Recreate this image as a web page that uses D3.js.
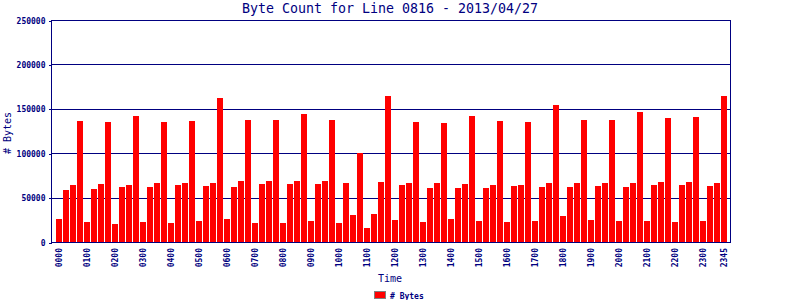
<!DOCTYPE html>
<html>
<head>
<meta charset="utf-8">
<script src="https://cdn.jsdelivr.net/npm/d3@7/dist/d3.min.js"></script>
<style>
  html, body { margin: 0; padding: 0; background: #fff; }
  svg { display: block; }
  text { font-family: "DejaVu Sans Mono", monospace; fill: #000080; }
</style>
</head>
<body>
<svg id="chart" width="800" height="300"></svg>
<script>
const title = "Byte Count for Line 0816 - 2013/04/27";
const yTitle = "# Bytes";
const xTitle = "Time";
const seriesName = "# Bytes";

// 96 quarter-hour intervals
const times = [];
for (let h = 0; h < 24; h++) for (let m = 0; m < 60; m += 15)
  times.push(String(h).padStart(2, "0") + String(m).padStart(2, "0"));

const bytes = [
  25900, 58600, 64200, 136300, 22500, 59700, 65300, 135100,
  20300, 61900, 64200, 141900, 22500, 61900, 66400, 135100,
  21400, 64200, 66400, 136300, 23600, 63100, 66400, 162200,
  25900, 61900, 68700, 137400, 21400, 65300, 68700, 137400,
  21400, 65300, 68700, 144100, 23600, 65300, 68700, 137400,
  21400, 66400, 30400, 100200, 15800, 31500, 67600, 164400,
  24800, 64200, 66400, 135100, 22500, 60800, 66400, 134000,
  25900, 60800, 65300, 141900, 23600, 60800, 64200, 136300,
  22500, 63100, 64200, 135100, 23600, 61900, 66400, 154300,
  29300, 61900, 66400, 137400, 24800, 63100, 66400, 137400,
  23600, 61900, 66400, 146400, 23600, 64200, 67600, 139600,
  22500, 64200, 67600, 140800, 23600, 63100, 66400, 164400
];

const tickLabels = ["0000","0100","0200","0300","0400","0500","0600","0700","0800","0900","1000","1100",
  "1200","1300","1400","1500","1600","1700","1800","1900","2000","2100","2200","2300","2345"];
const yTicks = [0, 50000, 100000, 150000, 200000, 250000];

const navy = "#000080";
const svg = d3.select("#chart");

const pLeft = 51, pRight = 730, pTop = 20, pBottom = 242;

const x = d3.scaleBand().domain(times).range([56, 727]).paddingInner(1 / 7).paddingOuter(0);
const y = d3.scaleLinear().domain([0, 250000]).range([pBottom, pTop]);

// gridlines
svg.append("g").selectAll("line").data(yTicks).join("line")
  .attr("x1", pLeft).attr("x2", pRight)
  .attr("y1", d => Math.round(y(d)) + 0.5).attr("y2", d => Math.round(y(d)) + 0.5)
  .attr("stroke", navy).attr("stroke-width", 1).attr("shape-rendering", "crispEdges");

// bars
svg.append("g").selectAll("rect").data(bytes).join("rect")
  .attr("x", (d, i) => Math.round(x(times[i])))
  .attr("width", Math.round(x.bandwidth()))
  .attr("y", d => Math.round(y(d)))
  .attr("height", d => pBottom - Math.round(y(d)))
  .attr("fill", "#ff0000").attr("shape-rendering", "crispEdges");

// frame lines
const frame = svg.append("g").attr("stroke", navy).attr("shape-rendering", "crispEdges");
frame.append("line").attr("x1", pLeft + 0.5).attr("x2", pLeft + 0.5).attr("y1", pTop).attr("y2", pBottom + 1);
frame.append("line").attr("x1", pRight + 0.5).attr("x2", pRight + 0.5).attr("y1", pTop).attr("y2", pBottom + 1);
frame.append("line").attr("x1", pLeft).attr("x2", pRight + 1).attr("y1", pBottom + 0.5).attr("y2", pBottom + 0.5);

// y axis ticks & labels
const yAxis = d3.axisLeft(y).tickValues(yTicks).tickSize(3).tickPadding(3).tickFormat(d3.format("d"));
const gy = svg.append("g").attr("transform", `translate(${pLeft + 0.5},0.5)`).call(yAxis);
gy.select(".domain").remove();
gy.selectAll(".tick line").attr("stroke", navy).attr("shape-rendering", "crispEdges");
gy.selectAll(".tick text").attr("fill", navy)
  .style("font-family", '"DejaVu Sans Mono", monospace').style("font-size", "8px").style("font-weight", "bold");

// x tick labels (rotated)
svg.append("g").selectAll("text").data(tickLabels).join("text")
  .attr("transform", d => `translate(${x(d) + x.bandwidth() / 2 + 0.5},248) rotate(-90)`)
  .attr("text-anchor", "end").attr("dy", "0.35em")
  .style("font-size", "8px").style("font-weight", "bold")
  .text(d => d);

// title
svg.append("text").attr("x", 390).attr("y", 13).attr("text-anchor", "middle")
  .style("font-size", "13.3px").text(title);

// y title
svg.append("text").attr("transform", "translate(11,133) rotate(-90)")
  .attr("text-anchor", "middle").style("font-size", "10px").text(yTitle);

// x title
svg.append("text").attr("x", 390).attr("y", 282).attr("text-anchor", "middle")
  .style("font-size", "10px").text(xTitle);

// legend
svg.append("rect").attr("x", 374.5).attr("y", 291.5).attr("width", 11).attr("height", 7)
  .attr("fill", "#ff0000").attr("stroke", "#808080").attr("stroke-width", 1);
svg.append("text").attr("x", 390).attr("y", 298.5)
  .style("font-size", "8px").style("font-weight", "bold").text(seriesName);
</script>
</body>
</html>
